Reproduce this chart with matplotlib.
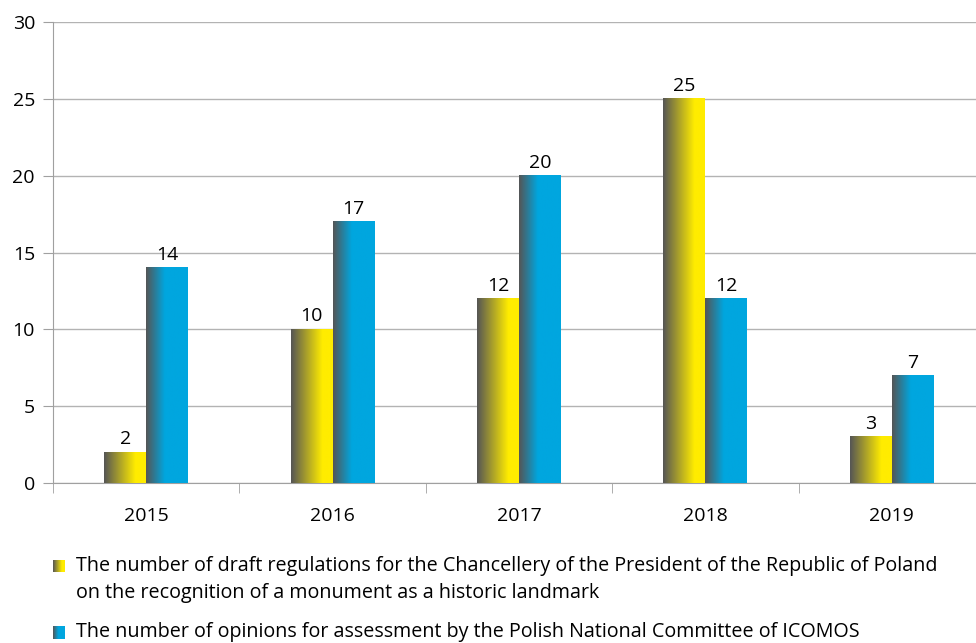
import matplotlib.pyplot as plt
import numpy as np
from matplotlib.colors import LinearSegmentedColormap

years = ['2015', '2016', '2017', '2018', '2019']
drafts = [2, 10, 12, 25, 3]
opinions = [14, 17, 20, 12, 7]
legend_labels = [
    'The number of draft regulations for the Chancellery of the President of the Republic of Poland\non the recognition of a monument as a historic landmark',
    'The number of opinions for assessment by the Polish National Committee of ICOMOS',
]

plt.rcParams['font.family'] = ['Open Sans', 'DejaVu Sans']

grey = '#555555'
yellow_cmap = LinearSegmentedColormap.from_list('y', [(0, grey), (0.75, '#ffec00'), (1, '#ffec00')])
blue_cmap = LinearSegmentedColormap.from_list('b', [(0, grey), (0.45, '#00a6df'), (1, '#00a6df')])
grad = np.linspace(0, 1, 256).reshape(1, -1)

W, H = 976, 643
fig = plt.figure(figsize=(W / 100, H / 100), dpi=100)
ax = fig.add_axes([53 / W, 1 - 483 / H, 932 / W, 461 / H])

x = np.arange(len(years))
w = 0.225
fs = 14


def gradient_bars(xs, vals, cmap):
    bars = ax.bar(xs, vals, w, align='edge', color='none', zorder=3)
    for b, v in zip(bars, vals):
        x0 = b.get_x()
        ax.imshow(grad, cmap=cmap, aspect='auto', zorder=3,
                  extent=(x0, x0 + b.get_width(), 0, b.get_height()))
        ax.text(x0 + b.get_width() / 2, v + 0.25, str(v), ha='center', va='bottom',
                fontsize=fs, color='black')


gradient_bars(x - w, drafts, yellow_cmap)
gradient_bars(x, opinions, blue_cmap)

ax.set_xlim(-0.5, len(years) - 0.5)
ax.set_ylim(0, 30)
ax.set_yticks(range(0, 31, 5))
ax.set_xticks(x)
ax.set_xticklabels(years)
ax.set_xticks(np.arange(-0.5, len(years)), minor=True)
ax.tick_params(axis='x', which='major', length=0, pad=17, labelsize=fs)
ax.tick_params(axis='x', which='minor', length=7, color='#a0a0a0')
ax.tick_params(axis='y', length=7, color='#a0a0a0', labelsize=fs, pad=6)
ax.grid(axis='y', color='#b3b3b3', linewidth=1, zorder=0)
for s in ['top', 'right']:
    ax.spines[s].set_visible(False)
for s in ['left', 'bottom']:
    ax.spines[s].set_color('#a0a0a0')

# legend with gradient squares (pixel positions of line centres)
line_y = [[566, 593], [632]]
cmaps = [yellow_cmap, blue_cmap]
for ys, lab, cm in zip(line_y, legend_labels, cmaps):
    mk = fig.add_axes([53 / W, 1 - (ys[0] + 6.5) / H, 12 / W, 13 / H])
    mk.imshow(grad, cmap=cm, aspect='auto')
    mk.axis('off')
    for yy, line in zip(ys, lab.split('\n')):
        fig.text(76 / W, 1 - yy / H, line, fontsize=14.2, ha='left', va='center')

plt.savefig('out.png', dpi=100)
